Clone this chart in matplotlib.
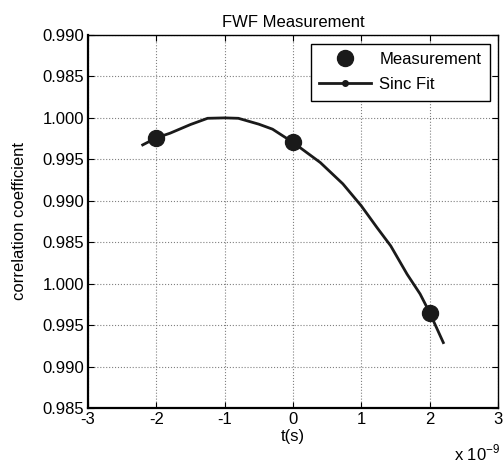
import numpy as np
import matplotlib
matplotlib.use('Agg')
import matplotlib.pyplot as plt
from matplotlib.lines import Line2D

plt.rcParams['font.family'] = ['Liberation Sans', 'DejaVu Sans']

# Misure (t in unità di 1e-9 s)
meas_t = [-2.0, 0.0, 2.0]
meas_r = [0.99759, 0.99704, 0.97651]

# Curva di fit
fit_t = [-2.2, -2.0, -1.8, -1.5, -1.25, -1.0, -0.8, -0.5, -0.3, 0.0,
         0.4, 0.73, 1.0, 1.23, 1.43, 1.67, 1.86, 2.0, 2.2]
fit_r = [0.99674, 0.99759, 0.99815, 0.99920, 0.99995, 1.00000, 0.99995,
         0.99924, 0.99864, 0.99704, 0.99461, 0.99204, 0.98938, 0.98676,
         0.98456, 0.98114, 0.97876, 0.97651, 0.97289]

# Tick dell'asse y (valori sottostanti) ed etichette come nell'originale
y_ticks = [0.965, 0.970, 0.975, 0.980, 0.985, 0.990, 0.995, 1.000, 1.005, 1.010]
y_labels = ['0.985', '0.990', '0.995', '1.000', '0.985', '0.990', '0.995',
            '1.000', '0.985', '0.990']
x_ticks = [-3, -2, -1, 0, 1, 2, 3]

FS = 12

fig = plt.figure(figsize=(5.03, 4.66), dpi=100)
ax = fig.add_axes([0.175, 0.1245, 0.815, 0.8004])

ax.plot(fit_t, fit_r, '-', color='#1a1a1a', lw=2.0, zorder=3)
ax.plot(meas_t, meas_r, 'o', color='#1a1a1a', ms=11.5, zorder=4)

ax.set_xlim(-3, 3)
ax.set_ylim(0.965, 1.010)
ax.set_xticks(x_ticks)
ax.set_xticklabels([str(v) for v in x_ticks])
ax.set_yticks(y_ticks)
ax.set_yticklabels(y_labels)

ax.grid(True, color='#808080', linestyle=':', linewidth=0.8)
ax.tick_params(direction='in', length=4, width=0.8, top=True, right=True,
               labelsize=FS, colors='black', pad=3)
for side in ['left', 'bottom']:
    ax.spines[side].set_linewidth(1.6)
for side in ['top', 'right']:
    ax.spines[side].set_linewidth(1.0)

ax.set_title('FWF Measurement', fontsize=FS, pad=6)
ax.set_xlabel('t(s)', fontsize=FS, labelpad=1)
ax.set_ylabel('correlation coefficient', fontsize=FS, labelpad=11)

fig.text(0.902, 0.012, r'x 10$^{\mathregular{-9}}$', fontsize=FS)

handles = [
    Line2D([], [], marker='o', color='#1a1a1a', linestyle='none', ms=11.5),
    Line2D([], [], marker='.', color='#1a1a1a', lw=2.0, ms=8),
]
leg = ax.legend(handles, ['Measurement', 'Sinc Fit'], loc='upper right',
                fontsize=FS, frameon=True, fancybox=False, framealpha=1,
                edgecolor='black', borderpad=0.5, handlelength=3.1,
                handletextpad=0.5, labelspacing=0.6, borderaxespad=0,
                bbox_to_anchor=(0.98, 0.976))
leg.get_frame().set_linewidth(1.0)

fig.savefig('out.png', dpi=100)
